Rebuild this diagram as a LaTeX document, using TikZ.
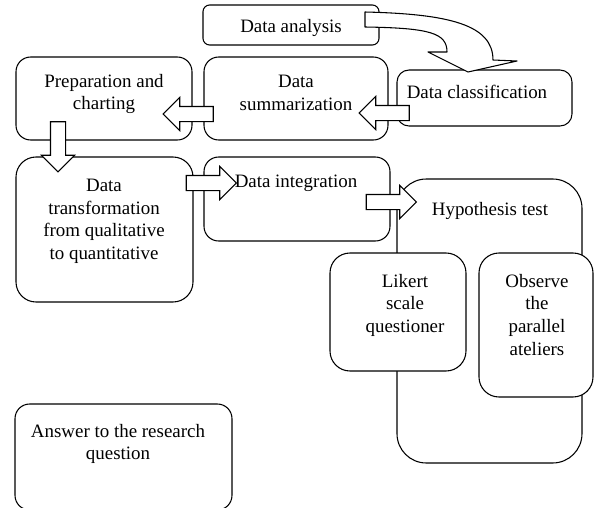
\documentclass[tikz,border=0pt]{standalone}
\usepackage{fontspec}
\setmainfont{Liberation Serif}
\usetikzlibrary{shapes.arrows}

\begin{document}
\begin{tikzpicture}[x=0.75pt, y=-0.75pt,
  box/.style={draw=black, thick, fill=white, rounded corners=11pt},
  txt/.style={anchor=north, align=center, inner sep=0pt, font=\fontsize{14.2}{16.9}\selectfont},
  blk/.style={single arrow, draw=black, thick, fill=white, inner sep=5.25pt,
    minimum width=24pt, minimum height=37.5pt, single arrow head extend=6.75pt}]
\useasboundingbox (0,0) rectangle (594,508);
% boxes
\node[box, rounded corners=5pt, minimum width=132pt, minimum height=30pt] (ana) at (291,25) {};
\node[box, minimum width=138pt, minimum height=62.25pt] (summ) at (296,98.5) {};
\node[box, rounded corners=9pt, minimum width=131.25pt, minimum height=42pt] (class) at (484.5,98) {};
\node[box, minimum width=132pt, minimum height=62.25pt] (prep) at (104,98.5) {};
\node[box, rounded corners=15pt, minimum width=132.75pt, minimum height=108.75pt] (trans) at (104.5,229.5) {};
\node[box, minimum width=139.5pt, minimum height=63pt] (integ) at (297,199) {};
\node[box, rounded corners=22pt, minimum width=138.75pt, minimum height=213pt] (hyp) at (489.5,321) {};
\node[box, rounded corners=15pt, minimum width=102pt, minimum height=88.5pt] (likert) at (398,312) {};
\node[box, rounded corners=15pt, minimum width=85.5pt, minimum height=108pt] (obs) at (536,325) {};
\node[box, minimum width=162.75pt, minimum height=79.5pt] (ans) at (123.5,457) {};
% texts
\node[txt] (t-ana) at (291,19) {Data analysis};
\node[txt] (t-summ) at (296,75) {Data\\summarization};
\node[txt] (t-class) at (477,85) {Data classification};
\node[txt] (t-prep) at (104,74) {Preparation and\\charting};
\node[txt] (t-trans) at (104,179) {Data\\transformation\\from qualitative\\to quantitative};
\node[txt] (t-integ) at (296,175) {Data integration};
\node[txt] (t-hyp) at (490,202) {Hypothesis test};
\node[txt] (t-likert) at (405,274) {Likert\\scale\\questioner};
\node[txt] (t-obs) at (537,274) {Observe\\the\\parallel\\ateliers};
\node[txt] (t-ans) at (118,424) {Answer to the research\\question};
% block arrows
\node[blk, rotate=180] (a1) at (388,113) {};
\node[blk, rotate=180] (a2) at (192,114) {};
\node[blk, rotate=270] (a3) at (58,143) {};
\node[blk] (a4) at (207.5,183) {};
\node[blk] (a5) at (387.5,202) {};
\draw[thick, fill=white, line join=round] (365,12) .. controls (450,14) and (493,25) .. (493,60)
  -- (517,61) -- (468,72) -- (428,52) -- (447,52)
  .. controls (447,33) and (430,28) .. (365,27) -- cycle;
\end{tikzpicture}
\end{document}
